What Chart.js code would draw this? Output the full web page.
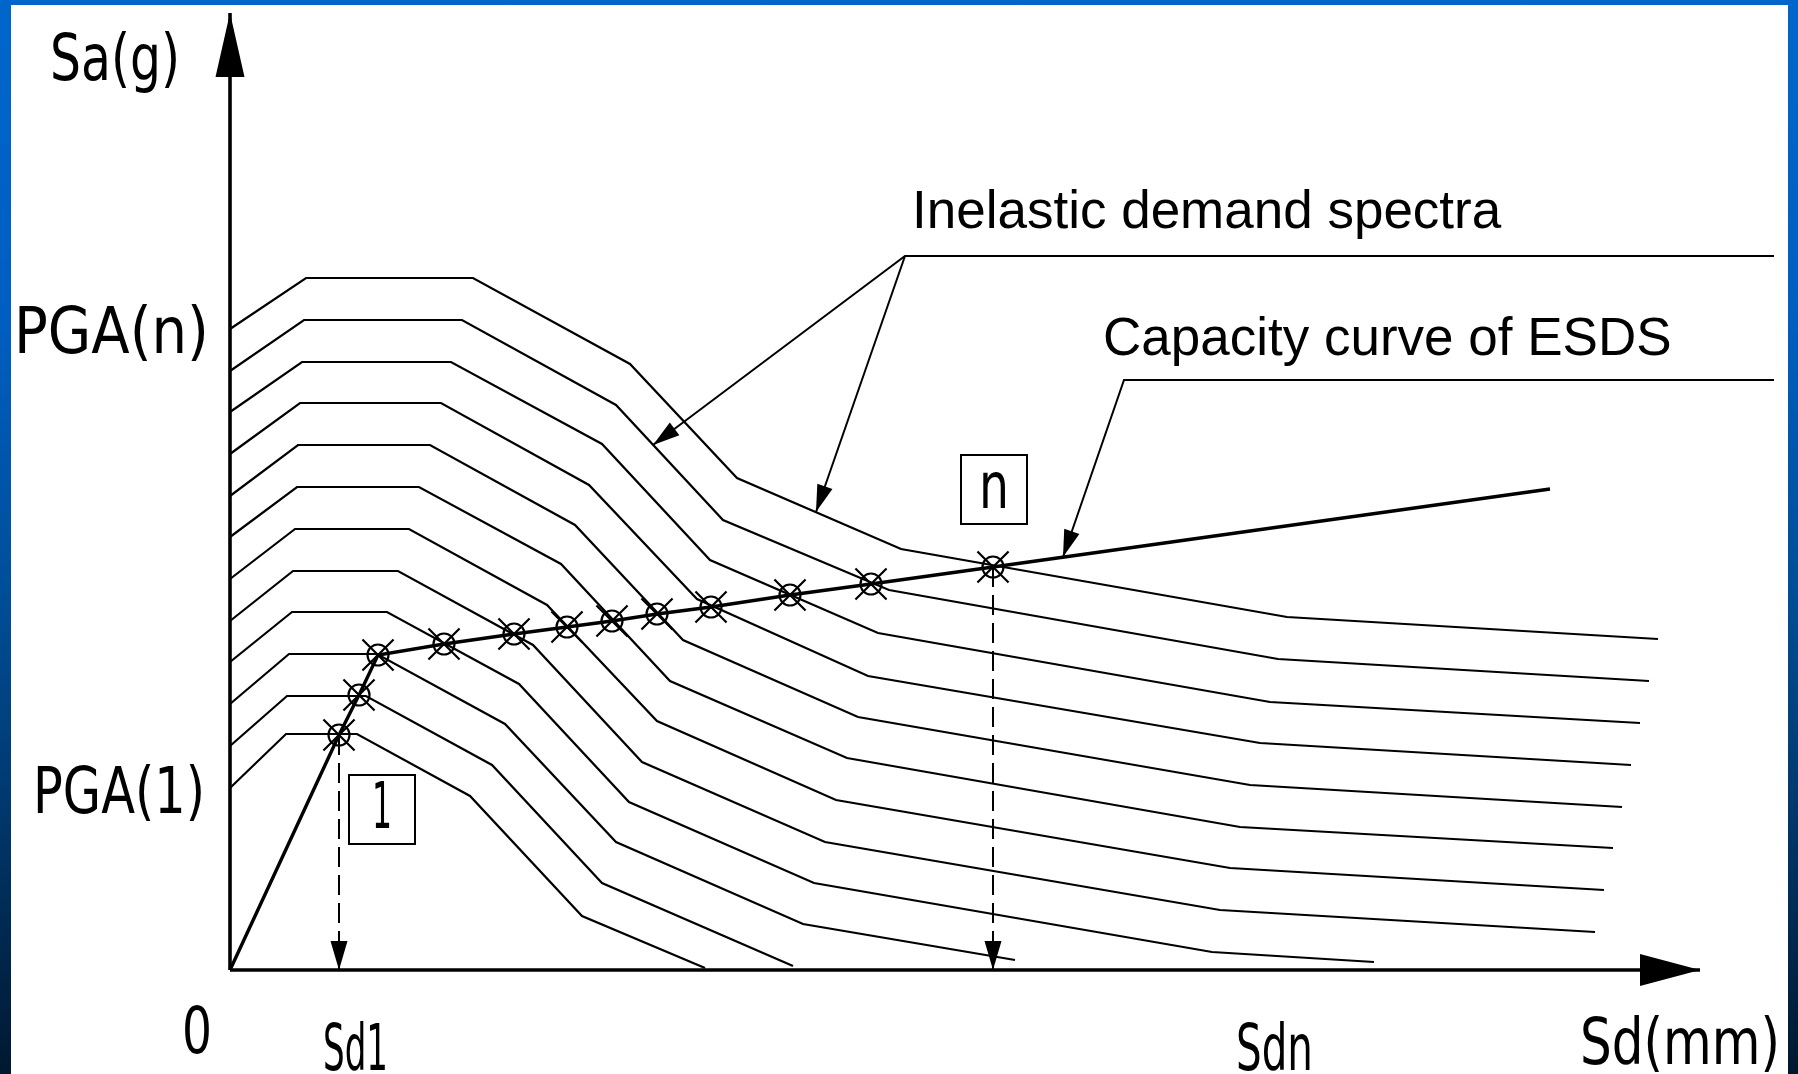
<!DOCTYPE html>
<html><head><meta charset="utf-8">
<script src="https://cdn.jsdelivr.net/npm/chart.js@4.4.0/dist/chart.umd.min.js"></script>
<style>
html,body{margin:0;padding:0;width:1798px;height:1074px;overflow:hidden;}
body{background:linear-gradient(to bottom,#0066cc 0%,#005ec0 30%,#004e98 55%,#00386e 75%,#00182f 100%);}
#panel{position:absolute;left:11px;top:5px;width:1777px;height:1069px;background:#ffffff;}
#wrap{position:absolute;left:0;top:0;width:1798px;height:1074px;}
</style></head><body>
<div id="panel"></div>
<div id="wrap"><canvas id="c" width="1798" height="1074"></canvas></div>
<script>
// ---- Inelastic demand spectra, PGA(1) (lowest) ... PGA(n) (highest); x = Sd, y = Sa (drawing units)
const spectrum1X = [0, 56, 127, 240, 352, 475];
const spectrum1Y = [182, 236, 236, 174, 54, 2];
const spectrum2X = [0, 57, 136, 262, 372, 563];
const spectrum2Y = [224, 274, 274, 205, 87, 4];
const spectrum3X = [0, 59, 147, 275, 386, 573, 785];
const spectrum3Y = [266, 316, 316, 246, 128, 46, 10];
const spectrum4X = [0, 62, 157, 289, 399, 584, 982, 1144];
const spectrum4Y = [308, 358, 358, 286, 168, 87, 18, 8];
const spectrum5X = [0, 63, 168, 303, 412, 595, 990, 1365];
const spectrum5Y = [349, 399, 399, 325, 208, 128, 60, 38];
const spectrum6X = [0, 65, 179, 317, 427, 606, 1000, 1374];
const spectrum6Y = [391, 441, 441, 365, 249, 170, 102, 80];
const spectrum7X = [0, 67, 189, 331, 440, 617, 1010, 1383];
const spectrum7Y = [433, 483, 483, 406, 289, 212, 143, 122];
const spectrum8X = [0, 68, 200, 345, 453, 628, 1020, 1392];
const spectrum8Y = [474, 525, 525, 445, 330, 253, 185, 163];
const spectrum9X = [0, 70, 211, 359, 467, 638, 1030, 1401];
const spectrum9Y = [516, 567, 567, 485, 371, 294, 227, 205];
const spectrum10X = [0, 72, 221, 372, 480, 648, 1040, 1410];
const spectrum10Y = [558, 608, 608, 526, 410, 337, 268, 247];
const spectrum11X = [0, 74, 232, 386, 493, 659, 1048, 1419];
const spectrum11Y = [599, 650, 650, 565, 450, 380, 311, 289];
const spectrum12X = [0, 76, 243, 400, 507, 671, 1057, 1428];
const spectrum12Y = [641, 692, 692, 606, 492, 421, 353, 331];

// ---- Capacity curve of ESDS and performance points
const capacityX = [0, 109, 129, 148, 214, 284, 337, 382, 427, 481, 560, 641, 763, 1320];
const capacityY = [0, 235, 275, 315, 326, 336, 343, 349, 356, 363, 375, 386, 403, 481];
const perfPointX = [109, 129, 148, 214, 284, 337, 382, 427, 481, 560, 641, 763];
const perfPointY = [235, 275, 315, 326, 336, 343, 349, 356, 363, 375, 386, 403];

// ---- Axes extent
const axisXEnd = 1470;
const axisYEnd = 957;

// ---- Dashed projection lines (Sd1, Sdn)
const sd1LineX = [109, 109];
const sd1LineY = [235, 0];
const sdnLineX = [763, 763];
const sdnLineY = [403, 0];

// ---- Annotation leaders
const demandLeaderAX = [1544, 675, 423];
const demandLeaderAY = [714, 714, 525];
const demandLeaderBX = [675, 586];
const demandLeaderBY = [714, 458];
const capacityLeaderX = [1544, 894, 833];
const capacityLeaderY = [590, 590, 413];

// ---- Text
const cadLabels = ['Sa(g)', 'PGA(n)', 'PGA(1)', '0', 'Sd1', 'Sdn', 'Sd(mm)'];
const cadLabelX = [-180, -216, -197, -48, 93, 1006, 1350];
const cadLabelY = [890, 617, 157, -83, -100, -100, -94];
const cadLabelW = [130, 195, 172, 30, 65, 77, 200];
const noteLabels = ['Inelastic demand spectra', 'Capacity curve of ESDS'];
const noteLabelX = [682, 873];
const noteLabelY = [742, 615];
const boxLabels = ['1', 'n'];
const boxX0 = [119, 731];
const boxX1 = [185, 797];
const boxY0 = [126, 446];
const boxY1 = [195, 515];
const boxTextW = [20, 30];

function pts(xs, ys) { return xs.map((x, i) => ({x: x, y: ys[i]})); }

const spectraX = [spectrum1X, spectrum2X, spectrum3X, spectrum4X, spectrum5X, spectrum6X, spectrum7X, spectrum8X, spectrum9X, spectrum10X, spectrum11X, spectrum12X];
const spectraY = [spectrum1Y, spectrum2Y, spectrum3Y, spectrum4Y, spectrum5Y, spectrum6Y, spectrum7Y, spectrum8Y, spectrum9Y, spectrum10Y, spectrum11Y, spectrum12Y];

const base = {borderColor: '#000', pointRadius: 0, fill: false, clip: false, tension: 0, borderJoinStyle: 'miter'};
const datasets = [];
spectraX.forEach((xs, i) => {
  datasets.push(Object.assign({}, base, {label: 'Spectrum ' + (i + 1), data: pts(xs, spectraY[i]), borderWidth: 2.2}));
});
datasets.push(Object.assign({}, base, {label: 'Capacity', data: pts(capacityX, capacityY), borderWidth: 3.4}));
datasets.push(Object.assign({}, base, {label: 'Y axis', data: pts([0, 0], [0, axisYEnd]), borderWidth: 3.6, arrowHead: [64, 14.5]}));
datasets.push(Object.assign({}, base, {label: 'X axis', data: pts([0, axisXEnd], [0, 0]), borderWidth: 3.6, arrowHead: [60, 16]}));
datasets.push(Object.assign({}, base, {label: 'Sd1', data: pts(sd1LineX, sd1LineY), borderWidth: 2, borderDash: [20, 8], arrowHead: [29, 8.5]}));
datasets.push(Object.assign({}, base, {label: 'Sdn', data: pts(sdnLineX, sdnLineY), borderWidth: 2, borderDash: [20, 8], arrowHead: [29, 8.5]}));
datasets.push(Object.assign({}, base, {label: 'LeaderA', data: pts(demandLeaderAX, demandLeaderAY), borderWidth: 2, arrowHead: [27, 8]}));
datasets.push(Object.assign({}, base, {label: 'LeaderB', data: pts(demandLeaderBX, demandLeaderBY), borderWidth: 2, arrowHead: [27, 8]}));
datasets.push(Object.assign({}, base, {label: 'LeaderC', data: pts(capacityLeaderX, capacityLeaderY), borderWidth: 2, arrowHead: [27, 8]}));
datasets.push({label: 'Perf circles', data: pts(perfPointX, perfPointY), showLine: false, clip: false,
  pointStyle: 'circle', pointRadius: 10.5, pointBorderWidth: 2.2, pointBorderColor: '#000', pointBackgroundColor: 'rgba(0,0,0,0)'});
datasets.push({label: 'Perf crosses', data: pts(perfPointX, perfPointY), showLine: false, clip: false,
  pointStyle: 'crossRot', pointRadius: 22, pointBorderWidth: 2.2, pointBorderColor: '#000', pointBackgroundColor: '#000'});

const arrowPlugin = {
  id: 'arrows',
  afterDatasetsDraw(chart) {
    const ctx = chart.ctx;
    chart.data.datasets.forEach((ds, i) => {
      if (!ds.arrowHead) return;
      const p = chart.getDatasetMeta(i).data;
      const a = p[p.length - 2], b = p[p.length - 1];
      const dx = b.x - a.x, dy = b.y - a.y, L = Math.hypot(dx, dy);
      const ux = dx / L, uy = dy / L;
      const len = ds.arrowHead[0], hw = ds.arrowHead[1];
      const bx = b.x - ux * len, by = b.y - uy * len;
      ctx.save();
      ctx.fillStyle = '#000';
      ctx.beginPath();
      ctx.moveTo(b.x, b.y);
      ctx.lineTo(bx - uy * hw, by + ux * hw);
      ctx.lineTo(bx + uy * hw, by - ux * hw);
      ctx.closePath();
      ctx.fill();
      ctx.restore();
    });
  }
};

const textPlugin = {
  id: 'texts',
  afterDraw(chart) {
    const ctx = chart.ctx, xs = chart.scales.x, ys = chart.scales.y;
    ctx.save();
    ctx.fillStyle = '#000';
    ctx.textBaseline = 'alphabetic';
    ctx.textAlign = 'left';
    ctx.font = '64px "DejaVu Sans"';
    cadLabels.forEach((t, i) => {
      const px = xs.getPixelForValue(cadLabelX[i]), py = ys.getPixelForValue(cadLabelY[i]);
      const w = ctx.measureText(t).width;
      ctx.save();
      ctx.translate(px, py);
      ctx.scale(cadLabelW[i] / w, 1);
      ctx.fillText(t, 0, 0);
      ctx.restore();
    });
    ctx.font = '53px "Liberation Sans", Arial, sans-serif';
    noteLabels.forEach((t, i) => {
      ctx.fillText(t, xs.getPixelForValue(noteLabelX[i]), ys.getPixelForValue(noteLabelY[i]));
    });
    ctx.strokeStyle = '#000';
    ctx.lineWidth = 2;
    ctx.font = '64px "DejaVu Sans"';
    ctx.textBaseline = 'middle';
    boxLabels.forEach((t, i) => {
      const x0 = xs.getPixelForValue(boxX0[i]), x1 = xs.getPixelForValue(boxX1[i]);
      const y0 = ys.getPixelForValue(boxY0[i]), y1 = ys.getPixelForValue(boxY1[i]);
      ctx.strokeRect(x0, y1, x1 - x0, y0 - y1);
      const w = ctx.measureText(t).width;
      ctx.save();
      ctx.translate((x0 + x1) / 2, (y0 + y1) / 2 + 2);
      ctx.scale(boxTextW[i] / w, 1);
      ctx.textAlign = 'center';
      ctx.fillText(t, 0, 0);
      ctx.restore();
    });
    ctx.restore();
  }
};

new Chart(document.getElementById('c').getContext('2d'), {
  type: 'line',
  data: {datasets: datasets},
  options: {
    responsive: false,
    animation: false,
    events: [],
    layout: {autoPadding: false, padding: {left: 230, right: 8, top: 10, bottom: 104}},
    scales: {
      x: {type: 'linear', min: 0, max: 1560, display: false},
      y: {type: 'linear', min: 0, max: 960, display: false}
    },
    plugins: {legend: {display: false}, tooltip: {enabled: false}}
  },
  plugins: [arrowPlugin, textPlugin]
});
</script>
</body></html>
